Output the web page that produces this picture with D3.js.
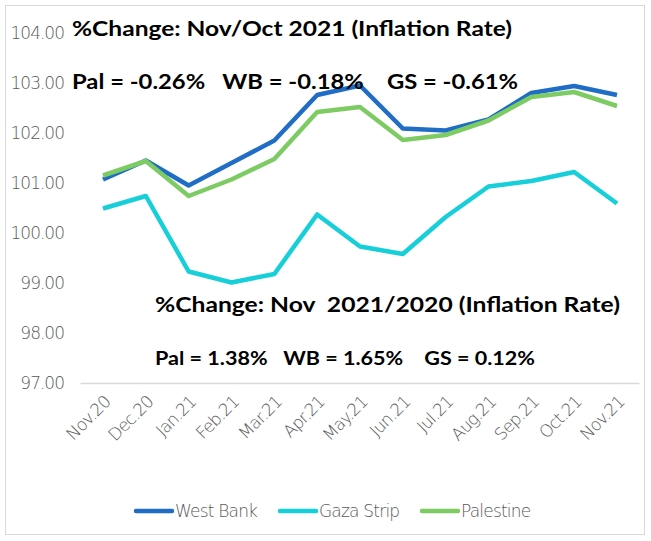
<!DOCTYPE html>
<html><head><meta charset="utf-8">
<script src="https://cdn.jsdelivr.net/npm/d3@7"></script>
<style>body{margin:0;background:#fff}svg{display:block}text{white-space:pre}</style>
</head><body>
<script>
const months = ["Nov.20","Dec.20","Jan.21","Feb.21","Mar.21","Apr.21","May.21","Jun.21","Jul.21","Aug.21","Sep.21","Oct.21","Nov.21"];
const westBank = [101.07,101.45,100.95,101.40,101.85,102.76,102.95,102.09,102.05,102.27,102.80,102.94,102.76];
const gazaStrip = [100.49,100.74,99.23,99.01,99.18,100.37,99.73,99.58,100.32,100.93,101.04,101.22,100.59];
const palestine = [101.15,101.44,100.74,101.07,101.48,102.42,102.52,101.86,101.96,102.25,102.72,102.82,102.54];
const yTicks = [97,98,99,100,101,102,103,104];
const seriesNames = ["West Bank","Gaza Strip","Palestine"];
const seriesColors = ["#1F6DC4","#16CFD9","#7DCB63"];
const textLines = [
  {t:"%Change: Nov/Oct 2021 (Inflation Rate)", x:72, y:36, w:440, s:21},
  {t:"Pal = -0.26%   WB = -0.18%    GS = -0.61%", x:72, y:89, w:446, s:20},
  {t:"%Change: Nov  2021/2020 (Inflation Rate)", x:155, y:312, w:465, s:20},
  {t:"Pal = 1.38%   WB = 1.65%    GS = 0.12%", x:155, y:365, w:380, s:18}
];

const W=651,H=541;
const svg=d3.select("body").append("svg").attr("width",W).attr("height",H);
svg.append("rect").attr("x",5.5).attr("y",5.5).attr("width",639).attr("height",529)
  .attr("fill","#fff").attr("stroke","#d9d9d9");

const x=d3.scalePoint().domain(months).range([103,617]);
const y=d3.scaleLinear().domain([97,104]).range([383,33]);

const tickFont="'DejaVu Sans'";
// y axis labels
const yAx=svg.append("g").attr("transform","translate(64,0)")
  .call(d3.axisLeft(y).tickValues(yTicks).tickFormat(d3.format(".2f")).tickSize(0).tickPadding(0));
yAx.select(".domain").remove();
yAx.selectAll("text").attr("font-family",tickFont).attr("font-weight",200).attr("font-size",17).attr("fill","#595959")
  .attr("dy","0.35em").style("letter-spacing","-1px");

// x axis
const xAx=svg.append("g").attr("transform","translate(0,383)")
  .call(d3.axisBottom(x).tickSize(0).tickPadding(0));
xAx.select(".domain").attr("d","M80.5,0.5H639.5").attr("stroke","#d9d9d9").attr("stroke-width",1.5);
xAx.selectAll(".tick text").attr("font-family",tickFont).attr("font-weight",200).attr("font-size",17).attr("fill","#595959")
  .attr("text-anchor","end").attr("dy",0).attr("y",0)
  .attr("transform","translate(8,20) rotate(-45)").style("letter-spacing","-0.8px");

// lines
const data=[westBank,gazaStrip,palestine];
const line=d3.line().x((d,i)=>x(months[i])).y(d=>y(d));
[1,0,2].forEach(k=>{
  svg.append("path").datum(data[k]).attr("d",line).attr("fill","none")
    .attr("stroke",seriesColors[k]).attr("stroke-width",4.5).attr("stroke-linejoin","round");
});

// annotation texts
textLines.forEach(o=>{
  svg.append("text").attr("x",o.x).attr("y",o.y).text(o.t)
    .attr("font-family","Lato, 'Open Sans', sans-serif").attr("font-weight","bold")
    .attr("font-size",o.s).attr("fill","#000")
    .attr("textLength",o.w).attr("lengthAdjust","spacingAndGlyphs");
});

// legend
const legX=[136,280,422];
seriesNames.forEach((n,i)=>{
  const g=svg.append("g").attr("transform",`translate(${legX[i]},511)`);
  g.append("line").attr("x1",0).attr("x2",36).attr("y1",0).attr("y2",0)
    .attr("stroke",seriesColors[i]).attr("stroke-width",4.5).attr("stroke-linecap","round");
  g.append("text").attr("x",39).attr("y",6).text(n)
    .attr("font-family",tickFont).attr("font-weight",200).attr("font-size",17).attr("fill","#595959")
    .style("letter-spacing","-0.8px");
});
</script>
</body></html>
